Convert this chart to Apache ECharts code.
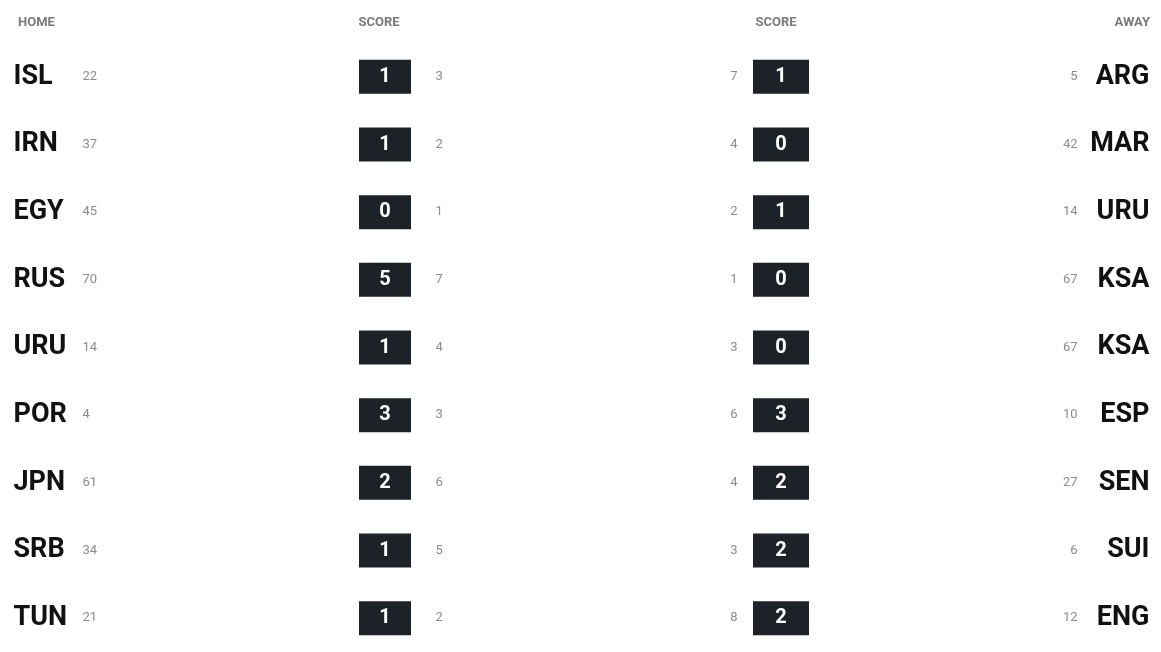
<!DOCTYPE html>
<html><head><meta charset="utf-8">
<script src="https://cdn.jsdelivr.net/npm/echarts@6/dist/echarts.min.js"></script>
<style>html,body{margin:0;padding:0;background:#fff}#c{width:1161px;height:652px}</style>
</head><body><div id="c"></div>
<script>
// ---- data (read/estimated from the reference) ----
const columns    = ['HOME', 'SCORE', 'SCORE', 'AWAY'];
const matchIds   = ['1','2','3','4','5','6','7','8','9'];
const homeTeams  = ['ISL','IRN','EGY','RUS','URU','POR','JPN','SRB','TUN'];
const homeRanks  = ['22','37','45','70','14','4','61','34','21'];
const homeGoals  = [1, 1, 0, 5, 1, 3, 2, 1, 1];
const homeShots  = ['3','2','1','7','4','3','6','5','2'];
const awayShots  = ['7','4','2','1','3','6','4','3','8'];
const awayGoals  = [1, 0, 1, 0, 0, 3, 2, 2, 2];
const awayRanks  = ['5','42','14','67','67','10','27','6','12'];
const awayTeams  = ['ARG','MAR','URU','KSA','KSA','ESP','SEN','SUI','ENG'];

const chart = echarts.init(document.getElementById('c'), null, {renderer: 'canvas'});

const nameFont = {fontFamily: 'Roboto', fontWeight: 'bold', fontSize: 27, color: '#111111'};
const noteFont = {fontFamily: 'Roboto', fontSize: 13, color: '#8c8c8c'};

function points(col, arr) { return arr.map((v, i) => ({value: [col, i], name: String(v)})); }

function textSeries(col, arr, position, distance, font) {
  return {
    type: 'scatter', silent: true, symbol: 'rect', symbolSize: [1, 1],
    itemStyle: {color: 'rgba(0,0,0,0)', opacity: 1},
    data: points(col, arr),
    label: Object.assign({show: true, position: position, distance: distance,
      formatter: p => p.name, verticalAlign: 'middle'}, font),
    emphasis: {disabled: true}
  };
}

function badgeSeries(col, arr, size, offset) {
  return {
    type: 'scatter', silent: true, symbol: 'rect', symbolSize: size, symbolOffset: [offset, 0],
    itemStyle: {color: '#1d2229', opacity: 1},
    data: points(col, arr),
    label: {show: true, position: 'inside', formatter: p => p.name,
      fontFamily: 'Roboto', fontWeight: 'bold', fontSize: 20, color: '#ffffff'},
    emphasis: {disabled: true}
  };
}

const headFont = {fontFamily: 'Roboto', fontSize: 13, fontWeight: 'bold', color: '#7a7a7a'};

chart.setOption({
  animation: false,
  backgroundColor: '#ffffff',
  grid: {left: 13, right: 11, top: 43, height: 611},
  xAxis: {
    type: 'category', data: columns, boundaryGap: false, position: 'top',
    axisLine: {show: false}, axisTick: {show: false}, splitLine: {show: false},
    axisLabel: Object.assign({
      margin: 14, alignMinLabel: 'left', alignMaxLabel: 'right',
      formatter: (v, i) => ['{a|' + v + '}', '{b|' + v + '}', '{c|' + v + '}', '{d|' + v + '}'][i],
      rich: {
        a: Object.assign({padding: [0, 0, 0, 5]}, headFont),
        b: Object.assign({padding: [0, 26, 0, 0]}, headFont),
        c: Object.assign({padding: [0, 0, 0, 10]}, headFont),
        d: Object.assign({}, headFont)
      }
    }, headFont)
  },
  yAxis: {type: 'category', data: matchIds, inverse: true, show: false},
  series: [
    textSeries(0, homeTeams, 'right', 0, nameFont),
    textSeries(0, homeRanks, 'right', 69, noteFont),
    badgeSeries(1, homeGoals, [52, 34], -7),
    textSeries(1, homeShots, 'right', 43, noteFont),
    textSeries(2, awayShots, 'left', 33, noteFont),
    badgeSeries(2, awayGoals, [56, 34], 10),
    textSeries(3, awayRanks, 'left', 72, noteFont),
    textSeries(3, awayTeams, 'left', 0, nameFont)
  ]
});
</script>
</body></html>
